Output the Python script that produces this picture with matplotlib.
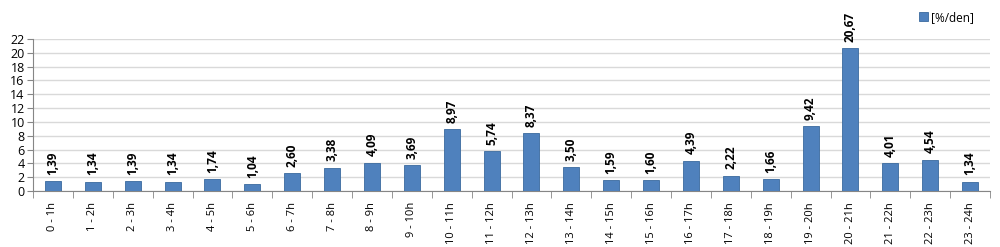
import numpy as np
import matplotlib
matplotlib.use("Agg")
import matplotlib.pyplot as plt

plt.rcParams['font.family'] = ['Open Sans', 'DejaVu Sans']

hours = ["0 - 1h", "1 - 2h", "2 - 3h", "3 - 4h", "4 - 5h", "5 - 6h", "6 - 7h", "7 - 8h",
         "8 - 9h", "9 - 10h", "10 - 11h", "11 - 12h", "12 - 13h", "13 - 14h", "14 - 15h",
         "15 - 16h", "16 - 17h", "17 - 18h", "18 - 19h", "19 - 20h", "20 - 21h", "21 - 22h",
         "22 - 23h", "23 - 24h"]
values = [1.39, 1.34, 1.39, 1.34, 1.74, 1.04, 2.60, 3.38, 4.09, 3.69, 8.97, 5.74, 8.37,
          3.50, 1.59, 1.60, 4.39, 2.22, 1.66, 9.42, 20.67, 4.01, 4.54, 1.34]
yticks = list(range(0, 23, 2))

fig = plt.figure(figsize=(10, 2.47), dpi=100)
ax = fig.add_axes([0.033, 0.227, 0.957, 0.615])

x = np.arange(len(hours))
ax.bar(x, values, width=0.4, color='#4F81BD', edgecolor='#3A6A9E', linewidth=0.6,
       label='[%/den]', zorder=3)

for xi, v in zip(x, values):
    ax.text(xi, v + 0.9, f"{v:.2f}".replace('.', ','), rotation=90, ha='center', va='bottom',
            fontsize=8.5, fontweight='bold', color='black')

ax.set_xlim(-0.5, len(hours) - 0.5)
ax.set_ylim(0, 22)
ax.set_yticks(yticks)
ax.tick_params(axis='y', labelsize=9, length=4, color='#868686', pad=2)
ax.yaxis.grid(True, color='#D9D9D9', linewidth=1, zorder=0)

ax.set_xticks(x)
ax.set_xticklabels(hours, rotation=90, fontsize=8)
ax.tick_params(axis='x', length=0, pad=8)
ax.set_xticks(np.arange(-0.5, len(hours), 1), minor=True)
ax.tick_params(axis='x', which='minor', length=5, color='#868686')

for s in ['top', 'right']:
    ax.spines[s].set_visible(False)
ax.spines['left'].set_color('#868686')
ax.spines['bottom'].set_color('#868686')

fig.legend(loc='upper right', bbox_to_anchor=(0.985, 1.0), frameon=False, fontsize=8.5,
           handlelength=0.8, handleheight=0.8, handletextpad=0.3)

fig.savefig("out.png", dpi=100)
